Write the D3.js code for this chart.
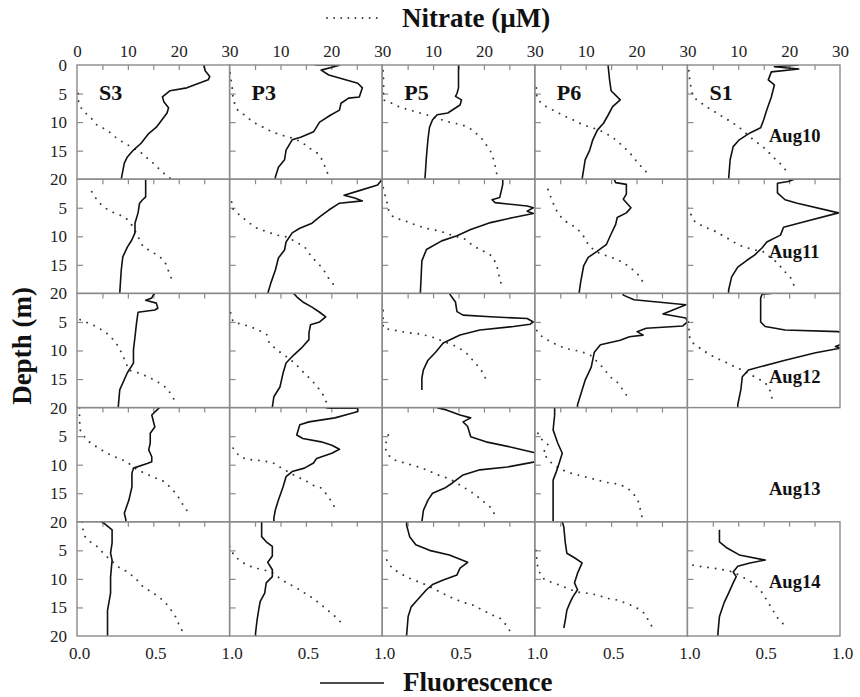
<!DOCTYPE html>
<html>
<head>
<meta charset="utf-8">
<script src="https://cdnjs.cloudflare.com/ajax/libs/d3/7.8.5/d3.min.js"></script>
<style>
  body { margin: 0; background: #fff; }
  svg { display: block; font-family: 'Liberation Serif', 'Times New Roman', serif; }
</style>
</head>
<body>
<svg id="chart" width="860" height="697"></svg>
<script>
// stations (columns) and days (rows)
var stations = ['S3', 'P3', 'P5', 'P6', 'S1'];
var days = ['Aug10', 'Aug11', 'Aug12', 'Aug13', 'Aug14'];

var nitrateTicks = [0, 10, 20, 30];
var fluorTicks = [0, 0.5, 1];
var depthTicks = [0, 5, 10, 15, 20];

// profiles as [depth (m), value]; fluorescence 0-1, nitrate in uM
// ---- Aug10
var fS3_10 = [[0,0.83],[1,0.84],[2,0.87],[2.6,0.86],[4,0.72],[4.5,0.61],[5.6,0.56],[6.5,0.57],[7.5,0.60],[8.4,0.59],[10.9,0.52],[12,0.47],[13.7,0.42],[14.9,0.37],[16.1,0.33],[17.2,0.31],[20,0.29]];
var nS3_10 = [[5,0.2],[6.1,0.2],[7.9,1],[9.1,2.6],[10.5,3.9],[11.4,5.9],[12.6,7.5],[13.5,9],[14.4,10.8],[15.2,12.4],[16.3,13.8],[17.2,15],[18.7,16.7],[19.8,18.3]];
var fP3_10 = [[0,0.56],[0.05,0.72],[0.9,0.60],[1.75,0.65],[3.2,0.84],[4,0.87],[5.6,0.85],[5.8,0.78],[6.7,0.73],[7.9,0.72],[8.8,0.66],[10,0.59],[11.7,0.55],[12.6,0.47],[13.1,0.41],[14.9,0.37],[16.6,0.36],[17.9,0.32],[19.6,0.30],[20,0.30]];
var nP3_10 = [[1.4,0.1],[3.9,0.5],[6.1,0.7],[7.9,1.6],[8.8,3],[10,4.6],[10.9,6.6],[11.7,8.3],[12.3,10.3],[12.8,12.3],[13.5,14.2],[14.4,15.4],[15.4,17.2],[16.6,18.2],[17.9,18.8],[19.3,19.4]];
var fP5_10 = [[0,0.50],[2,0.50],[4,0.50],[5,0.49],[5.5,0.48],[6.1,0.52],[7,0.51],[8.4,0.43],[8.7,0.36],[9.6,0.33],[10.9,0.31],[13,0.30],[16,0.29],[20,0.28]];
var nP5_10 = [[1,0.2],[4,0.3],[6.1,0.2],[6.7,1.9],[7.4,3.5],[7.9,5.5],[8.4,7.4],[8.8,9],[9.1,9.9],[10,13.2],[10.5,15.8],[11.4,17.8],[13.1,19.8],[15.4,21.5],[17.2,22.1],[19,22.5]];
var fP6_10 = [[0,0.48],[2.6,0.49],[4.5,0.50],[6.1,0.56],[7.3,0.51],[8.8,0.48],[10.2,0.45],[11.4,0.41],[13.1,0.38],[14.9,0.36],[16.6,0.33],[20,0.31]];
var nP6_10 = [[4,0.3],[5.8,0.4],[7,1.6],[7.9,3.6],[8.8,5.5],[9.6,7.5],[10.5,9.5],[11,11.4],[11.7,13.4],[12.6,15.2],[13.7,16.7],[15.4,18.7],[17.2,20.3],[18.9,22.1]];
var fS1_10 = [[0,0.73],[0.3,0.57],[0.7,0.73],[1.2,0.55],[2.6,0.53],[3.5,0.57],[5.6,0.55],[7.9,0.52],[9.6,0.50],[11,0.48],[11.9,0.41],[13.1,0.34],[14.3,0.30],[16.6,0.28],[20,0.27]];
var nS1_10 = [[1,0.3],[3,0.5],[5.6,1.1],[6.5,2.5],[7.4,3.9],[8.2,5.4],[9.1,7],[10,8.7],[11,10.3],[12.6,12.3],[13.7,13.9],[14.9,15.6],[16.1,16.8],[17.2,18.2],[18.7,19.6]];
// ---- Aug11
var fS3_11 = [[0,0.45],[3.1,0.45],[3.6,0.43],[4.2,0.41],[5.9,0.40],[7.7,0.38],[9.4,0.38],[10.6,0.36],[11.9,0.33],[13.6,0.30],[15.9,0.29],[20,0.28]];
var nS3_11 = [[2.2,2.9],[3.6,3.9],[4.8,5.1],[5.7,6.8],[6.3,8.5],[7.1,10],[8.3,11],[11.8,13],[12.7,14.7],[13.6,16.3],[14.5,17.3],[15.9,17.9],[17.7,18.7]];
var fP3_11 = [[0,1.0],[1,0.97],[2,0.85],[2.8,0.75],[3.3,0.82],[3.8,0.87],[4.2,0.72],[5.4,0.65],[6.6,0.59],[7.7,0.54],[8.6,0.46],[9.4,0.41],[11,0.37],[12.4,0.36],[13.8,0.32],[15.9,0.30],[18.2,0.27],[20,0.25]];
var nP3_11 = [[4,0.4],[5,0.4],[6.3,2],[7.5,3.6],[8.6,5.4],[9.2,7.3],[9.8,9.3],[10.1,11.2],[11,13.1],[11.9,14.8],[13.6,16.1],[14.7,17.4],[16.3,18.8],[17.7,19.7],[19.1,21.1]];
var fP5_11 = [[0,0.79],[0.9,0.79],[2.1,0.78],[3.2,0.77],[3.6,0.72],[4.1,0.74],[4.7,0.95],[5,0.99],[5.6,0.95],[6,0.99],[6.7,0.86],[7.6,0.71],[8.8,0.58],[9.9,0.49],[10.8,0.39],[12.3,0.29],[14.3,0.26],[20,0.25]];
var nP5_11 = [[1.5,0.2],[2.6,0.5],[3.8,0.9],[5.3,1.2],[6.7,2.2],[7.3,4.5],[8.1,6.8],[8.7,9.1],[9.1,11.4],[9.7,13.3],[10.5,16.3],[11.7,17.9],[12.6,19.9],[13.4,21.5],[14.9,22.5],[16.4,22.8],[17.5,23.2],[19,23.5]];
var fP6_11 = [[0,0.52],[0.6,0.53],[0.9,0.60],[2.6,0.60],[3.5,0.58],[5,0.63],[5.9,0.60],[6.7,0.54],[7.9,0.53],[9.6,0.50],[11.4,0.47],[12.6,0.41],[13.7,0.35],[15.2,0.32],[18.1,0.30],[20,0.29]];
var nP6_11 = [[1.8,2.6],[3.5,3.3],[5,4],[6.1,4.6],[7.3,5.9],[8.2,7.6],[9.4,9.2],[11.4,10.5],[12.6,11.8],[13.2,13.4],[13.7,15.1],[14.3,16.7],[15.2,18.4],[16.4,20],[17.5,21],[19,21.6]];
var fS1_11 = [[0,0.70],[0.4,0.66],[0.7,0.59],[2.4,0.59],[3.6,0.64],[4.2,0.72],[5.9,0.99],[7.5,0.76],[8.4,0.63],[9.8,0.61],[11,0.52],[12,0.49],[13.3,0.44],[14.2,0.39],[15.4,0.33],[17.1,0.29],[19.4,0.27],[20,0.27]];
var nS1_11 = [[5,0],[7.5,1.5],[8.4,3.4],[8.9,5],[9.8,6.8],[10.6,8.4],[11.5,10],[12,11.7],[12.4,13.3],[12.7,14.9],[13.6,16.2],[14.7,17.8],[15.9,18.8],[17.1,20.2],[18.9,21.1]];
// ---- Aug12
var fS3_12 = [[0,0.51],[0.3,0.50],[0.8,0.49],[1.2,0.45],[1.7,0.52],[2.6,0.53],[2.9,0.51],[3.3,0.40],[5.2,0.39],[7.6,0.38],[9.9,0.37],[12.2,0.37],[13.9,0.33],[16.9,0.28],[20,0.27]];
var nS3_12 = [[4.6,0.6],[5.5,3.1],[6.7,5.5],[8.4,7.5],[9.9,8.5],[12.5,9.8],[13.4,10],[13.9,12],[14.5,13.7],[15.4,15.7],[16.6,17.7],[18.3,18.9],[19.5,19.7]];
var fP3_12 = [[0,0.42],[0.6,0.44],[1.5,0.48],[2.4,0.54],[3.3,0.59],[4.1,0.63],[5,0.59],[5.5,0.53],[6.9,0.52],[8.1,0.52],[9.3,0.48],[9.6,0.47],[10.8,0.42],[12.2,0.37],[14,0.35],[16.4,0.33],[18.1,0.29],[19.9,0.28]];
var nP3_12 = [[3.4,0.2],[5,0.7],[5.8,4],[6.4,5.6],[7.2,7.3],[8.7,7.8],[9.9,9.3],[11.1,11.2],[12.2,12.8],[13.7,14.4],[15.2,16.1],[16.4,17.3],[17.8,18.4],[19.2,19.1]];
var fP5_12 = [[0,0.44],[0.6,0.455],[1.5,0.48],[3.2,0.49],[3.8,0.53],[4.1,0.71],[4.4,0.95],[5,0.99],[5.4,0.97],[5.8,0.86],[6.4,0.64],[7.3,0.51],[8.7,0.40],[10.3,0.35],[11.7,0.30],[13.4,0.27],[14.8,0.26],[16.9,0.26]];
var nP5_12 = [[3,0.2],[6.1,0.2],[6.4,2.1],[6.9,5.1],[7.1,7.4],[7.6,9.7],[8.7,12.9],[9.4,14.9],[10.5,16.6],[11.8,17.9],[13.2,19.3],[14.6,20.2],[15.9,20.5]];
var fP6_12 = [[0,0.58],[0.3,0.58],[1.1,0.65],[2,0.99],[3.6,0.84],[4.3,0.99],[5,1.0],[5.7,0.97],[6.1,0.73],[6.7,0.67],[7.3,0.71],[7.6,0.62],[8.2,0.56],[9,0.43],[10.3,0.39],[12.9,0.37],[15.2,0.33],[16.9,0.31],[19.5,0.28],[20,0.28]];
var nP6_12 = [[6.5,0.4],[7.3,1],[8.2,2.6],[9,4.3],[9.6,5.9],[9.9,7.5],[10.2,9.2],[10.8,10.9],[11.9,12.2],[13.1,13.5],[14.6,14.8],[15.7,16.4],[16.9,17.3],[18.3,18.4]];
var fS1_12 = [[0,0.55],[0.1,0.49],[0.8,0.48],[5,0.48],[5.8,0.51],[6.4,0.64],[6.7,0.99],[7.5,1.1],[8.5,1.1],[9,1.0],[9.3,0.97],[9.6,1.0],[10.4,0.84],[11.7,0.64],[13.4,0.40],[14.6,0.36],[16.9,0.35],[19.5,0.33],[20,0.33]];
var nS1_12 = [[5,0.2],[7.5,0.4],[8.5,0.8],[9.6,2.5],[10.5,4],[11.4,5.8],[12,7.4],[12.7,9],[13.4,10.7],[14.8,13.6],[15.6,15.3],[16.9,16.2],[18.3,16.6],[19,16.7]];
// ---- Aug13 (no S1 profile)
var fS3_13 = [[0,0.54],[1.3,0.49],[3.4,0.51],[4.5,0.48],[6.2,0.48],[7.4,0.47],[8.6,0.49],[9.5,0.49],[9.8,0.46],[10.6,0.37],[11.5,0.36],[13.9,0.36],[16.2,0.34],[18.5,0.31],[19.6,0.32],[20,0.32]];
var nS3_13 = [[0,0.5],[2,0.5],[3.9,0.6],[5.7,1.9],[6.9,3.9],[8,5.9],[8.8,7.9],[9.5,9.8],[10.9,11.8],[11.5,13.4],[12.2,15],[12.7,16.7],[13.9,18.3],[15.3,19.7],[16.7,20.6],[18.3,21.8]];
var fP3_13 = [[0,0.63],[0.1,0.66],[0.1,0.84],[0.7,0.84],[1,0.80],[1.8,0.69],[2.5,0.52],[3,0.46],[4.8,0.44],[5.4,0.48],[6,0.60],[6.6,0.67],[7.3,0.72],[8,0.67],[8.9,0.57],[9.7,0.55],[10.6,0.49],[11.2,0.41],[12.1,0.37],[13.9,0.35],[16.2,0.32],[17.9,0.30],[19.3,0.29],[20,0.29]];
var nP3_13 = [[7.1,0.7],[8.6,2],[9.1,3.6],[9.2,5.3],[9.4,7],[9.7,8.6],[10.6,10.2],[12.1,13.2],[12.7,14.8],[13.6,16.4],[14.1,18.1],[15.6,19.4],[17,20.4],[18.4,21]];
var fP5_13 = [[0,0.36],[0.4,0.42],[1.3,0.51],[1.8,0.58],[2.5,0.53],[3.3,0.56],[5.1,0.58],[6,0.68],[6.9,0.84],[7.9,1.0],[8.5,1.05],[9.3,1.03],[9.5,1.0],[10.4,0.82],[10.9,0.64],[11.8,0.53],[13.2,0.46],[14.1,0.41],[15,0.33],[16.2,0.30],[18,0.27],[20,0.26]];
var nP5_13 = [[4.8,1.2],[5.7,0.9],[6.8,0.55],[8,0.9],[9.1,2.1],[9.7,4.4],[10.3,6.8],[10.9,8.7],[11.8,11],[12.5,13.3],[14.1,16.3],[15,17.9],[16.2,19.6],[17.4,21.2],[18.8,22.2]];
var fP6_13 = [[0,0.13],[1.3,0.13],[3.9,0.12],[6.2,0.15],[8,0.18],[9.7,0.16],[11.3,0.14],[12.7,0.12],[20,0.12]];
var nP6_13 = [[4.5,0.6],[5.3,1],[6.5,2.6],[8,1.6],[10,3.6],[11.3,6.3],[11.9,8.9],[12.5,11.5],[13.1,14.1],[13.4,16.4],[14,18.1],[15.1,19.4],[16.3,20.3],[17.7,20.7],[19.2,21.1]];
// ---- Aug14
var fS3_14 = [[0,0.16],[0.3,0.18],[1.4,0.23],[3.7,0.23],[5.5,0.22],[6.7,0.23],[9.7,0.22],[12.5,0.22],[15.5,0.20],[17.8,0.20],[20,0.20]];
var nS3_14 = [[0,1],[1.4,1.2],[2.6,1.6],[3.5,2.6],[4.3,3.9],[5.8,5.5],[7.9,8.1],[8.8,10],[10.2,11.8],[11.4,13],[12.3,14.7],[13.3,16.3],[14.5,17.7],[15.7,18.7],[17.1,19.7],[18.5,20.2],[19.2,20.8]];
var fP3_14 = [[0,0.21],[2.6,0.21],[3.5,0.24],[4.3,0.28],[6,0.28],[7.1,0.25],[8.4,0.28],[9.6,0.28],[10.7,0.24],[12.5,0.23],[14,0.20],[15.5,0.19],[17.2,0.18],[19.5,0.17],[20,0.17]];
var nP3_14 = [[4.3,0],[6,0.9],[7.2,2.7],[8,4.6],[8.4,6.6],[8.8,8.3],[10.2,10.3],[10.8,11.5],[11.6,13.2],[12.5,14.8],[13.4,16.4],[14.6,18.1],[15.8,19.7],[17,21.3],[18.4,22.6]];
var fP5_14 = [[0,0.16],[0.6,0.16],[2.6,0.18],[4,0.22],[5,0.31],[5.8,0.44],[7.1,0.56],[8.1,0.51],[9.3,0.49],[10.2,0.40],[11,0.33],[11.9,0.29],[13.7,0.23],[14.9,0.19],[16.6,0.17],[19.8,0.16],[20,0.16]];
var nP5_14 = [[6.7,0.9],[8.1,1.9],[9,3.5],[9.8,5.1],[10.5,7.1],[11.1,8.8],[12.5,11.8],[13.4,13.9],[14.1,15.9],[14.6,17.9],[15.5,19.8],[16.4,21.8],[16.9,23.2],[18.2,24.5],[19.1,25.1]];
var fP6_14 = [[0,0.18],[0.9,0.19],[3.7,0.20],[5.5,0.21],[6.3,0.26],[7.2,0.31],[9,0.28],[10.7,0.26],[11.9,0.28],[13.1,0.25],[14.2,0.23],[15.5,0.21],[17.2,0.20],[18.6,0.19]];
var nP6_14 = [[5,0.2],[8.1,0.6],[9.8,1.4],[10.5,3],[11,4.6],[11.6,6.3],[12.3,8.3],[12.5,10.3],[12.8,12.2],[13.4,14.2],[13.7,16.2],[14.3,18.1],[14.9,19.7],[15.8,21.3],[17.2,22.3],[18.6,23.2]];
var fS1_14 = [[1.4,0.21],[3.5,0.21],[4.6,0.26],[5.8,0.34],[6.7,0.51],[7.2,0.41],[7.8,0.33],[8.8,0.30],[9.6,0.32],[10.7,0.30],[12.5,0.27],[14.2,0.24],[16.6,0.21],[19.5,0.20],[20,0.20]];
var nS1_14 = [[7.6,1.1],[7.9,3.1],[8.1,5],[8.4,7],[8.8,9],[9.9,11.3],[10.7,12.9],[12.3,14.6],[13.7,15.6],[15.2,16.6],[16.9,17.8],[18.6,19.6]];

// grid of profiles [row][col] -> {fl, no3}; null = no cast
var grid = [
  [{fl: fS3_10, no3: nS3_10}, {fl: fP3_10, no3: nP3_10}, {fl: fP5_10, no3: nP5_10}, {fl: fP6_10, no3: nP6_10}, {fl: fS1_10, no3: nS1_10}],
  [{fl: fS3_11, no3: nS3_11}, {fl: fP3_11, no3: nP3_11}, {fl: fP5_11, no3: nP5_11}, {fl: fP6_11, no3: nP6_11}, {fl: fS1_11, no3: nS1_11}],
  [{fl: fS3_12, no3: nS3_12}, {fl: fP3_12, no3: nP3_12}, {fl: fP5_12, no3: nP5_12}, {fl: fP6_12, no3: nP6_12}, {fl: fS1_12, no3: nS1_12}],
  [{fl: fS3_13, no3: nS3_13}, {fl: fP3_13, no3: nP3_13}, {fl: fP5_13, no3: nP5_13}, {fl: fP6_13, no3: nP6_13}, null],
  [{fl: fS3_14, no3: nS3_14}, {fl: fP3_14, no3: nP3_14}, {fl: fP5_14, no3: nP5_14}, {fl: fP6_14, no3: nP6_14}, {fl: fS1_14, no3: nS1_14}]
];

//============================================================
// layout
//------------------------------------------------------------
var gridLeft = 77, gridTop = 65, colW = 152.6, rowH = 114.2;
var dayLabelDy = [77, 79, 90, 87, 66];
var frameColor = '#8a8a8a';

var svg = d3.select('#chart');

var x = d3.scaleLinear().domain([0, 1]).range([0, colW]),
    xN = d3.scaleLinear().domain([0, 30]).range([0, colW]),
    y = d3.scaleLinear().domain([0, 20]).range([0, rowH]);

var flLine = d3.line().x(function(d) { return x(d[1]) }).y(function(d) { return y(d[0]) });
var noLine = d3.line().x(function(d) { return xN(d[1]) }).y(function(d) { return y(d[0]) });

svg.append('defs').append('clipPath').attr('id', 'panel-clip')
  .append('rect').attr('width', colW).attr('height', rowH);

function styleAxis(g) {
  g.select('.domain').remove();
  g.selectAll('.tick line').attr('stroke', frameColor).attr('stroke-width', 1.2);
  g.selectAll('.tick text').attr('fill', '#222').style('font-size', '17px')
    .style('font-family', "'Liberation Serif','Times New Roman',serif");
}

grid.forEach(function(row, r) {
  row.forEach(function(p, c) {
    if (!p) return;
    var g = svg.append('g').attr('transform', 'translate(' + (gridLeft + c * colW) + ',' + (gridTop + r * rowH) + ')');

    // inner ticks
    g.append('g').call(d3.axisTop(xN).tickValues([5, 10, 15, 20, 25]).tickSize(-5).tickFormat('')).call(styleAxis);
    g.append('g').call(d3.axisLeft(y).tickValues([5, 10, 15]).tickSize(-6).tickFormat('')).call(styleAxis);

    var plot = g.append('g').attr('clip-path', 'url(#panel-clip)');
    plot.append('path').datum(p.no3).attr('d', noLine)
      .attr('fill', 'none').attr('stroke', '#3a3a3a').attr('stroke-width', 1.9)
      .attr('stroke-linecap', 'round').attr('stroke-dasharray', '0.1,7.5');
    plot.append('path').datum(p.fl).attr('d', flLine)
      .attr('fill', 'none').attr('stroke', '#111').attr('stroke-width', 1.6)
      .attr('stroke-linejoin', 'round');

    g.append('rect').attr('width', colW).attr('height', rowH)
      .attr('fill', 'none').attr('stroke', frameColor).attr('stroke-width', 1.4);
  });
});

// nitrate tick labels along top, station names
stations.forEach(function(s, c) {
  var vals = c === 0 ? nitrateTicks : nitrateTicks.slice(1);
  svg.append('g').attr('transform', 'translate(' + (gridLeft + c * colW) + ',' + gridTop + ')')
    .call(d3.axisTop(xN).tickValues(vals).tickSize(0).tickPadding(8)).call(styleAxis);

  svg.append('text').attr('x', gridLeft + c * colW + 22).attr('y', gridTop + 35)
    .style('font-size', '22px').style('font-weight', 'bold').attr('fill', '#111').text(s);
});

// fluorescence tick labels along bottom
stations.forEach(function(s, c) {
  var vals = c === 0 ? fluorTicks : fluorTicks.slice(1);
  svg.append('g').attr('transform', 'translate(' + (gridLeft + c * colW + 2) + ',' + (gridTop + 5 * rowH) + ')')
    .call(d3.axisBottom(x).tickValues(vals).tickSize(0).tickPadding(11).tickFormat(d3.format('.1f'))).call(styleAxis);
});

// depth labels per row, day names
days.forEach(function(dday, r) {
  var vals = r === 0 ? depthTicks : depthTicks.slice(1);
  svg.append('g').attr('transform', 'translate(' + gridLeft + ',' + (gridTop + r * rowH) + ')')
    .call(d3.axisLeft(y).tickValues(vals).tickSize(0).tickPadding(10)).call(styleAxis);

  svg.append('text').attr('x', 769).attr('y', gridTop + r * rowH + dayLabelDy[r])
    .style('font-size', '18.5px').style('font-weight', 'bold').attr('fill', '#111').text(dday);
});

// titles + legend keys
svg.append('line').attr('x1', 327).attr('x2', 378).attr('y1', 18).attr('y2', 18)
  .attr('stroke', '#3a3a3a').attr('stroke-width', 1.8).attr('stroke-linecap', 'round').attr('stroke-dasharray', '0.1,7');
svg.append('text').attr('x', 402).attr('y', 27).style('font-size', '27px').style('font-weight', 'bold')
  .attr('fill', '#111').text('Nitrate (\u00b5M)');

svg.append('line').attr('x1', 320).attr('x2', 384).attr('y1', 683).attr('y2', 683)
  .attr('stroke', '#111').attr('stroke-width', 1.5);
svg.append('text').attr('x', 403).attr('y', 691).style('font-size', '27px').style('font-weight', 'bold')
  .attr('fill', '#111').text('Fluorescence');

svg.append('text').attr('transform', 'translate(31,346) rotate(-90)').attr('text-anchor', 'middle')
  .style('font-size', '27px').style('font-weight', 'bold').attr('fill', '#111').text('Depth (m)');
</script>
</body>
</html>
